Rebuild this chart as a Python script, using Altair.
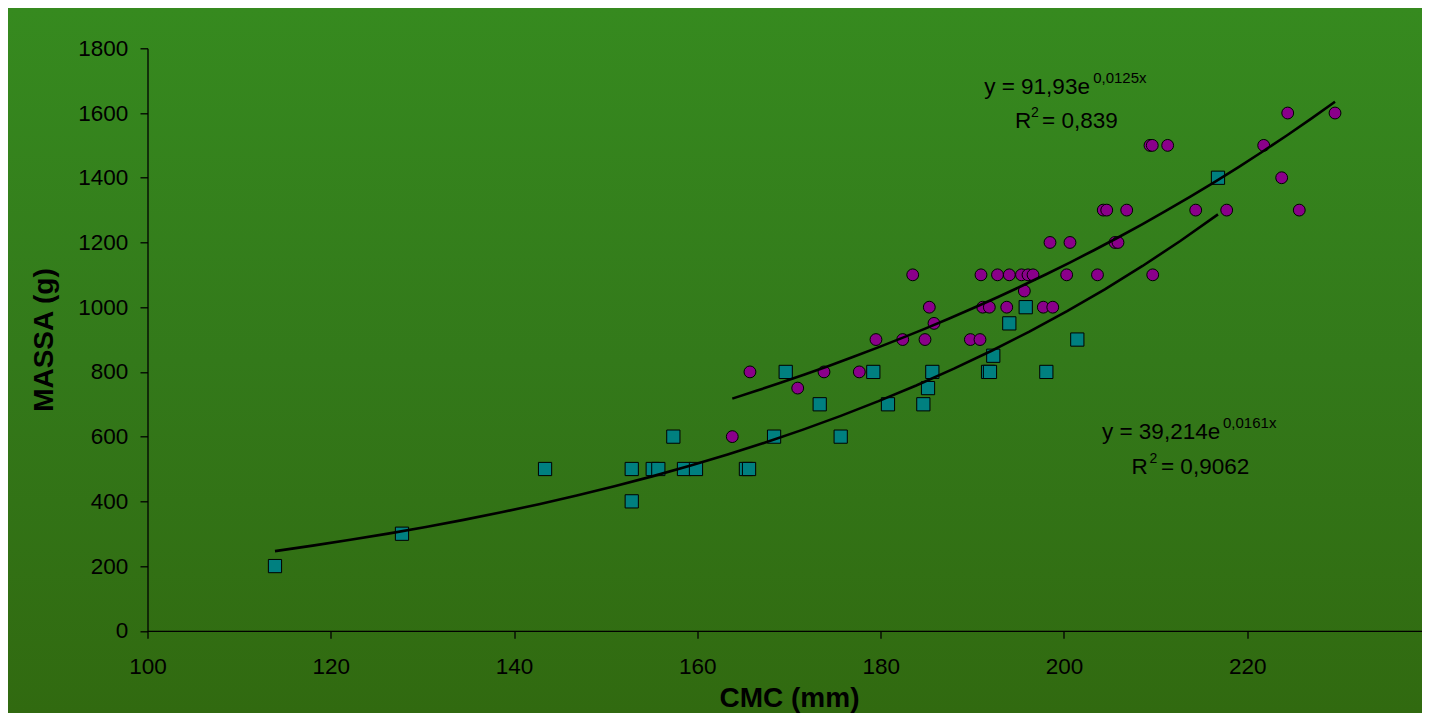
import altair as alt
import pandas as pd

# ---- data ----
serie_names = ["Quadrados", "Círculos"]

sq_cmc = [113.91, 127.77, 143.38, 152.84, 152.84, 155.13, 155.74, 157.38, 158.54, 159.85,
          165.30, 165.64, 168.37, 169.64, 173.35, 175.64, 179.20, 180.80, 184.66, 185.17,
          185.64, 191.72, 191.93, 192.29, 194.04, 195.83, 198.08, 201.46, 216.81]
sq_massa = [200, 300, 500, 500, 400, 500, 500, 600, 500, 500,
            500, 500, 600, 800, 700, 600, 800, 700, 700, 750,
            800, 800, 800, 850, 950, 1000, 800, 900, 1400]

ci_cmc = [163.81, 165.74, 170.95, 173.82, 177.67, 179.49, 182.41, 183.50, 184.84, 185.31,
          185.82, 189.79, 190.84, 190.95, 191.14, 191.86, 192.75, 193.76, 194.04, 195.37,
          195.68, 196.08, 196.63, 197.75, 198.78, 198.48, 200.30, 200.66, 203.66, 204.29,
          204.67, 205.57, 205.90, 206.85, 209.39, 209.64, 209.69, 211.32, 214.38, 217.76,
          221.80, 223.76, 224.42, 225.68, 229.58]
ci_massa = [600, 800, 750, 800, 800, 900, 900, 1100, 900, 1000,
            950, 900, 900, 1100, 1000, 1000, 1100, 1000, 1100, 1100,
            1050, 1100, 1100, 1000, 1000, 1200, 1100, 1200, 1100, 1300,
            1300, 1200, 1200, 1300, 1500, 1500, 1100, 1500, 1300, 1300,
            1500, 1400, 1600, 1300, 1600]

x_ticks = [100, 120, 140, 160, 180, 200, 220, 240]
y_ticks = [0, 200, 400, 600, 800, 1000, 1200, 1400, 1600, 1800]

# annotation texts (trend-line equations)
ann_text = ["y = 91,93e", "0,0125x", "R", "2", "= 0,839",
            "y = 39,214e", "0,0161x", "R", "2", "= 0,9062"]

# ---- layout / style ----
ann_x = [191.30, 203.19, 194.66, 196.41, 197.61,
         204.15, 217.36, 207.37, 209.33, 210.59]
ann_y = [1660.3, 1691.3, 1552.8, 1587.7, 1552.8,
         591.8, 628.2, 484.5, 518.5, 484.5]
ann_size = [22.5, 15, 22.5, 14, 22.5, 22.5, 15, 22.5, 14, 22.5]

FONT = "Liberation Sans"
SVG_W, SVG_H = 1414, 705
PAD_L, PAD_T = 139.5, 40.3
PX_PER_X = 9.1643
W = SVG_W - PAD_L
H = 582.5
X_MAX = 100 + W / PX_PER_X
TEAL = "#008080"
PURPLE = "#8a008a"

df_sq = pd.DataFrame({"cmc": sq_cmc, "massa": sq_massa, "serie": serie_names[0]})
df_ci = pd.DataFrame({"cmc": ci_cmc, "massa": ci_massa, "serie": serie_names[1]})
df_all = pd.concat([df_sq, df_ci], ignore_index=True)
df_ann = pd.DataFrame({"t": ann_text, "ax": ann_x, "ay": ann_y, "fs": ann_size})

x_scale = alt.Scale(domain=[100, X_MAX], nice=False, zero=False)
y_scale = alt.Scale(domain=[0, 1800], nice=False, zero=True)

x_axis = alt.Axis(
    title="CMC (mm)", values=x_ticks, format="d", grid=False, zindex=1,
    domainColor="black", domainWidth=1.3, tickColor="black", tickSize=7.5, tickWidth=1.3,
    labelFont=FONT, labelFontSize=22.5, labelColor="black", labelPadding=35.5,
    labelBaseline="alphabetic", labelFlush=False, labelOverlap=False,
    titleFont=FONT, titleFontSize=28, titleFontWeight="bold", titleColor="black",
    titleBaseline="alphabetic", titleX=641.5, titleY=76, titleAlign="center",
)
y_axis = alt.Axis(
    title="MASSA (g)", values=y_ticks, format="d", grid=False, zindex=1,
    domainColor="black", domainWidth=1.3, tickColor="black", tickSize=7.5, tickWidth=1.3,
    labelFont=FONT, labelFontSize=22.5, labelColor="black", labelPadding=12.3,
    labelFlush=False, labelOverlap=False,
    titleFont=FONT, titleFontSize=28, titleFontWeight="bold", titleColor="black",
    titleAngle=270, titleBaseline="alphabetic", titleAlign="center",
    titleX=-95.5, titleY=H / 2,
)

bg = alt.Chart(pd.DataFrame({"k": [1]})).mark_rect(
    fill=alt.LinearGradient(
        gradient="linear", x1=0, x2=0, y1=0, y2=1,
        stops=[alt.GradientStop(color="#368a1f", offset=0),
               alt.GradientStop(color="#33791a", offset=0.5),
               alt.GradientStop(color="#316a10", offset=1)],
    ),
    strokeWidth=0,
).encode(
    x=alt.value(-PAD_L), x2=alt.value(SVG_W - PAD_L),
    y=alt.value(-PAD_T), y2=alt.value(SVG_H - PAD_T),
)

squares = alt.Chart(df_sq).mark_square(
    size=175, color=TEAL, opacity=1, stroke="black", strokeWidth=1
).encode(
    x=alt.X("cmc:Q", scale=x_scale, axis=x_axis),
    y=alt.Y("massa:Q", scale=y_scale, axis=y_axis),
)

circles = alt.Chart(df_ci).mark_circle(
    size=140, color=PURPLE, opacity=1, stroke="black", strokeWidth=1
).encode(
    x=alt.X("cmc:Q", scale=x_scale),
    y=alt.Y("massa:Q", scale=y_scale),
)

trend = alt.Chart(df_all).transform_calculate(
    logm="log(datum.massa)"
).transform_regression(
    "cmc", "logm", groupby=["serie"], method="poly", order=1
).transform_calculate(
    fit="exp(datum.logm)"
).mark_line(color="black", strokeWidth=2.6).encode(
    x=alt.X("cmc:Q", scale=x_scale),
    y=alt.Y("fit:Q", scale=y_scale),
    detail="serie:N",
)

texts = alt.Chart(df_ann).mark_text(
    align="left", baseline="alphabetic", font=FONT, color="black"
).encode(
    x=alt.X("ax:Q", scale=x_scale),
    y=alt.Y("ay:Q", scale=y_scale),
    text="t:N",
    size=alt.Size("fs:Q", scale=None, legend=None),
)

chart = alt.layer(bg, squares, circles, trend, texts).properties(
    width=W, height=H,
    autosize=alt.AutoSizeParams(type="none"),
    padding={"left": PAD_L, "top": PAD_T, "right": 0, "bottom": SVG_H - PAD_T - H},
    background="#33791a",
).configure_view(strokeWidth=0)

chart.save("out.html", embed_options={"renderer": "svg", "actions": False})
